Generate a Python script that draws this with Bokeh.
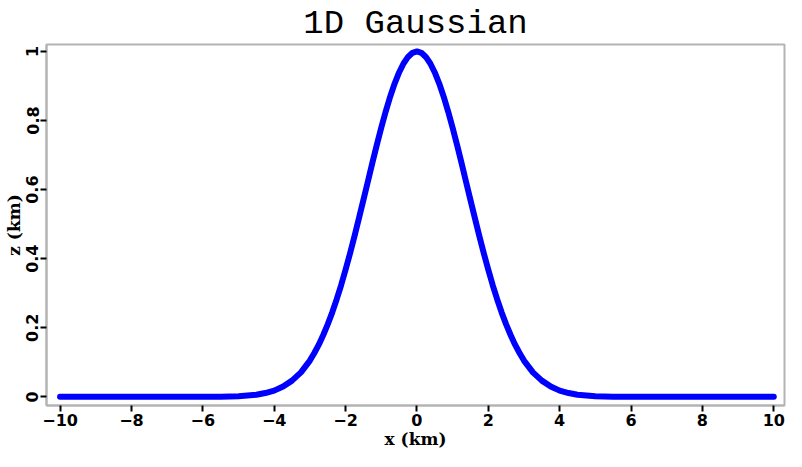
from bokeh.plotting import figure
from bokeh.models import FixedTicker, Range1d
from bokeh.embed import file_html
from bokeh.resources import INLINE

# data
x_km = [-10, -9, -8, -7, -6, -5.5, -5.0, -4.75, -4.5, -4.25, -4.0, -3.75, -3.5, -3.25,
        -3.0, -2.875, -2.75, -2.625, -2.5, -2.375, -2.25, -2.125, -2.0, -1.875, -1.75,
        -1.625, -1.5, -1.375, -1.25, -1.125, -1.0, -0.875, -0.75, -0.625, -0.5, -0.375,
        -0.25, -0.125, 0.0, 0.125, 0.25, 0.375, 0.5, 0.625, 0.75, 0.875, 1.0, 1.125,
        1.25, 1.375, 1.5, 1.625, 1.75, 1.875, 2.0, 2.125, 2.25, 2.375, 2.5, 2.625, 2.75,
        2.875, 3.0, 3.25, 3.5, 3.75, 4.0, 4.25, 4.5, 4.75, 5.0, 5.5, 6, 7, 8, 9, 10]
z_km = [0.0, 0.0, 0.0, 0.0, 0.0, 0.0005, 0.002, 0.004, 0.006, 0.011, 0.018, 0.030, 0.047, 0.071,
        0.105, 0.127, 0.151, 0.179, 0.210, 0.244, 0.282, 0.323, 0.368, 0.415, 0.465,
        0.517, 0.570, 0.623, 0.677, 0.729, 0.779, 0.826, 0.869, 0.907, 0.939, 0.965,
        0.984, 0.996, 1.0, 0.996, 0.984, 0.965, 0.939, 0.907, 0.869, 0.826, 0.779, 0.729,
        0.677, 0.623, 0.570, 0.517, 0.465, 0.415, 0.368, 0.323, 0.282, 0.244, 0.210, 0.179, 0.151,
        0.127, 0.105, 0.071, 0.047, 0.030, 0.018, 0.011, 0.006, 0.004, 0.002, 0.0005, 0.0, 0.0, 0.0, 0.0, 0.0]

x_ticks = [-10, -8, -6, -4, -2, 0, 2, 4, 6, 8, 10]
x_tick_labels = ["\u221210", "\u22128", "\u22126", "\u22124", "\u22122", "0", "2", "4", "6", "8", "10"]
y_ticks = [0, 0.2, 0.4, 0.6, 0.8, 1]
y_tick_labels = ["0", "0.2", "0.4", "0.6", "0.8", "1"]

title_text = "1D Gaussian"
x_label = "x (km)"
y_label = "z (km)"

p = figure(width=786, height=451, output_backend="svg", toolbar_location=None,
           x_range=Range1d(-10.38, 10.30), y_range=Range1d(-0.025, 1.02),
           min_border_left=0, min_border_right=2, min_border_top=0, min_border_bottom=0)

p.title.text = title_text
p.title.align = "center"
p.title.text_font = "Liberation Mono"
p.title.text_font_style = "normal"
p.title.text_font_size = "34px"
p.title.text_color = "black"
p.title.offset = 0
p.title.standoff = 4

p.line(x_km, z_km, line_color="#0000ff", line_width=6, line_cap="round", line_join="round")

p.xgrid.visible = False
p.ygrid.visible = False
p.outline_line_color = "#b4b4b4"
p.outline_line_width = 2
p.background_fill_color = "white"
p.border_fill_color = "white"

p.xaxis.ticker = FixedTicker(ticks=x_ticks)
p.xaxis.major_label_overrides = dict(zip(x_ticks, x_tick_labels))
p.yaxis.ticker = FixedTicker(ticks=y_ticks)
p.yaxis.major_label_overrides = dict(zip(y_ticks, y_tick_labels))
p.yaxis.major_label_orientation = "vertical"

for ax in (p.xaxis, p.yaxis):
    ax.axis_line_color = "#b4b4b4"
    ax.axis_line_width = 2
    ax.major_tick_line_color = "black"
    ax.major_tick_line_width = 2
    ax.major_tick_out = 6
    ax.major_tick_in = 0
    ax.minor_tick_line_color = None
    ax.major_label_text_font = "DejaVu Sans"
    ax.major_label_text_font_style = "bold"
    ax.major_label_text_font_size = "16px"
    ax.major_label_text_color = "black"
    ax.major_label_standoff = 2
    ax.axis_label_text_font = "DejaVu Serif"
    ax.axis_label_text_font_style = "bold"
    ax.axis_label_text_font_size = "17px"
    ax.axis_label_text_color = "black"
    ax.axis_label_standoff = 0

p.xaxis.axis_label = x_label
p.yaxis.axis_label = y_label

open("out.html", "w").write(file_html(p, INLINE))
